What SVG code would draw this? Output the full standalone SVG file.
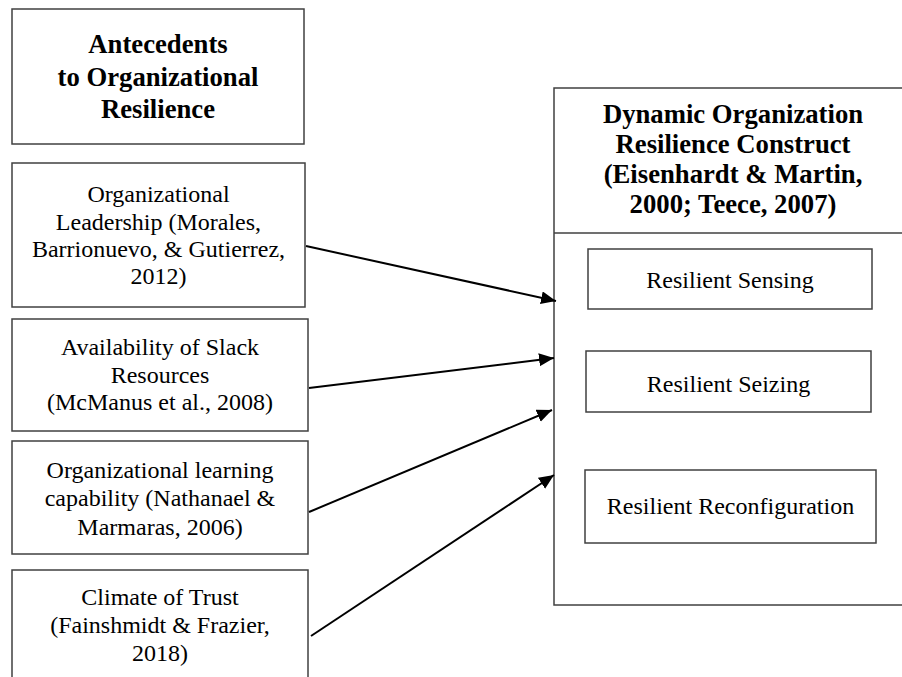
<svg xmlns="http://www.w3.org/2000/svg" width="902" height="677" viewBox="0 0 902 677">
<style>
.box{fill:#fff;stroke:#404040;stroke-width:1.5}
.t{font-family:"Liberation Serif","Times New Roman",serif;font-size:24px;fill:#000;text-anchor:middle}
.b{font-family:"Liberation Serif","Times New Roman",serif;font-size:26.7px;font-weight:bold;fill:#000;text-anchor:middle}
.c{stroke:#000;stroke-width:2;fill:none}
</style>
<defs>
<marker id="ah" markerUnits="userSpaceOnUse" markerWidth="16" markerHeight="14" refX="15" refY="6.5" orient="auto">
<path d="M0,0 L15,6.5 L0,13 z" fill="#000"/>
</marker>
</defs>
<rect width="902" height="677" fill="#fff"/>
<g id="antecedents">
<rect class="box" x="12" y="9" width="292" height="135"/>
<text class="b" x="158" y="53">Antecedents</text>
<text class="b" x="158" y="86">to Organizational</text>
<text class="b" x="158" y="118">Resilience</text>
</g>
<g id="leadership">
<rect class="box" x="12" y="163" width="293" height="144"/>
<text class="t" x="158.5" y="202">Organizational</text>
<text class="t" x="158.5" y="229.5">Leadership (Morales,</text>
<text class="t" x="158.5" y="257">Barrionuevo, &amp; Gutierrez,</text>
<text class="t" x="158.5" y="284">2012)</text>
</g>
<g id="slack">
<rect class="box" x="12" y="319" width="296" height="112"/>
<text class="t" x="160" y="355">Availability of Slack</text>
<text class="t" x="160" y="382.5">Resources</text>
<text class="t" x="160" y="410">(McManus et al., 2008)</text>
</g>
<g id="learning">
<rect class="box" x="12" y="441" width="296" height="113"/>
<text class="t" x="160" y="478">Organizational learning</text>
<text class="t" x="160" y="506">capability (Nathanael &amp;</text>
<text class="t" x="160" y="534.5">Marmaras, 2006)</text>
</g>
<g id="trust">
<rect class="box" x="12" y="570" width="296" height="130"/>
<text class="t" x="160" y="605">Climate of Trust</text>
<text class="t" x="160" y="632.5">(Fainshmidt &amp; Frazier,</text>
<text class="t" x="160" y="661">2018)</text>
</g>
<g id="construct">
<rect class="box" x="554" y="88" width="360" height="517"/>
<line class="box" x1="554" y1="233" x2="914" y2="233"/>
<text class="b" x="733" y="122.5">Dynamic Organization</text>
<text class="b" x="733" y="153">Resilience Construct</text>
<text class="b" x="733" y="183">(Eisenhardt &amp; Martin,</text>
<text class="b" x="733" y="213">2000; Teece, 2007)</text>
</g>
<g id="sensing">
<rect class="box" x="588" y="249" width="284" height="60"/>
<text class="t" x="730" y="288">Resilient Sensing</text>
</g>
<g id="seizing">
<rect class="box" x="586" y="351" width="285" height="61"/>
<text class="t" x="728.5" y="391.5">Resilient Seizing</text>
</g>
<g id="reconfiguration">
<rect class="box" x="585" y="470" width="291" height="73"/>
<text class="t" x="730.5" y="514">Resilient Reconfiguration</text>
</g>
<g id="connectors">
<line class="c" x1="306" y1="246" x2="556" y2="301" marker-end="url(#ah)"/>
<line class="c" x1="309" y1="388" x2="554" y2="358" marker-end="url(#ah)"/>
<line class="c" x1="309" y1="512" x2="552" y2="410" marker-end="url(#ah)"/>
<line class="c" x1="311" y1="636" x2="554" y2="475" marker-end="url(#ah)"/>
</g>
</svg>
